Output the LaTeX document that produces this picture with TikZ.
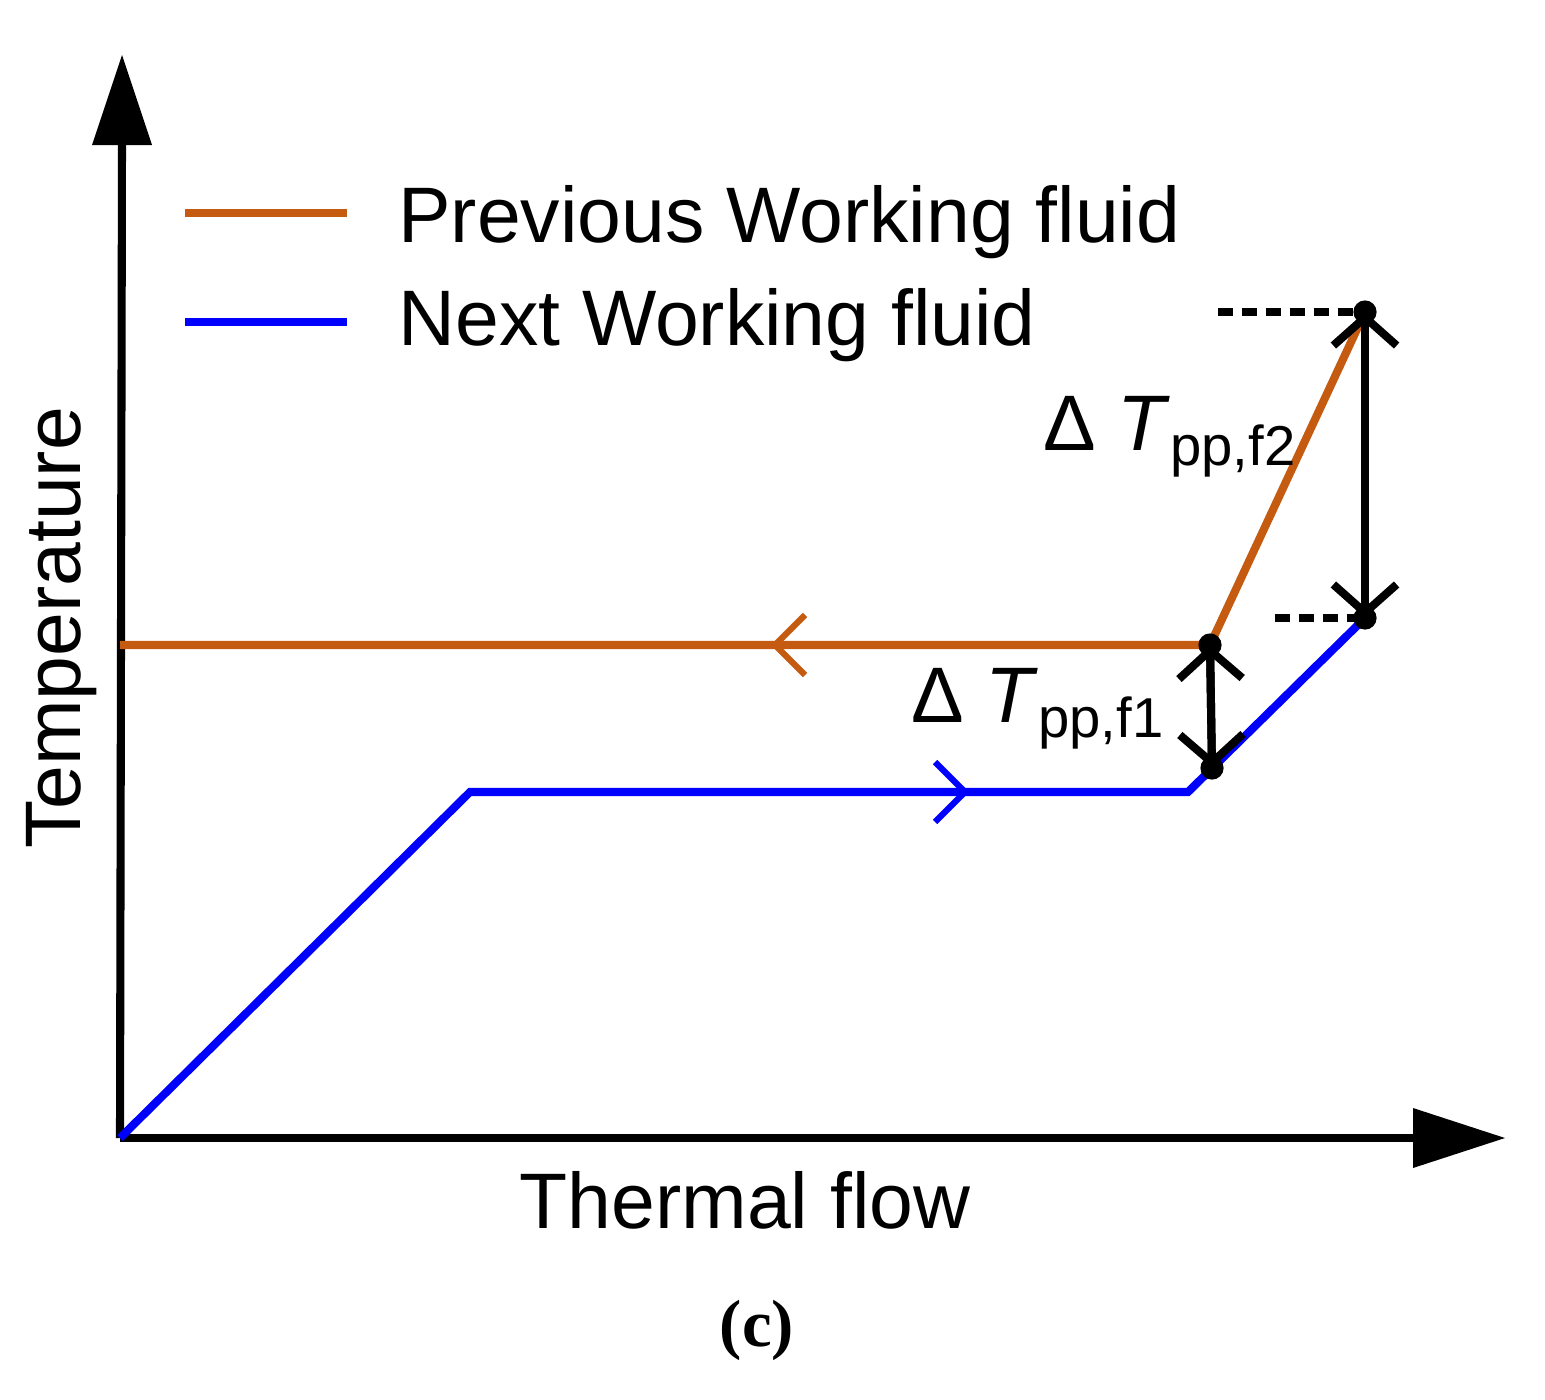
\documentclass[tikz,border=0pt]{standalone}
\usepackage{fontspec}
\setmainfont{Liberation Sans}
\newfontfamily\seriff{Liberation Serif}
\usetikzlibrary{arrows.meta}
\definecolor{org}{RGB}{197,90,17}
\definecolor{blu}{RGB}{0,0,255}
\begin{document}
\begin{tikzpicture}[x=0.05cm,y=-0.05cm,
 ln/.style={line width=11.5pt},
 dot/.style={circle,fill=black,inner sep=0pt,minimum size=33pt},
 big/.style={font=\fontsize{112}{125}\selectfont},
 open/.style={-{Straight Barb[length=40pt,width=90pt,line width=11.5pt]}},
 chev/.style={line width=9pt}]
\useasboundingbox (0,0) rectangle (1545,1399);
\coordinate (O) at (120,1138);
\draw[ln] (O) -- (122,140);
\fill (122,55) -- (92,145) -- (152,145) -- cycle;
\draw[ln] (O) -- (1415,1138);
\fill (1505,1138) -- (1413,1108) -- (1413,1168) -- cycle;
% curves
\coordinate (a1) at (120,645);
\coordinate (p1) at (1210,645);
\coordinate (p2) at (1365,312);
\coordinate (q1) at (1212,768);
\coordinate (q2) at (1365,618);
\draw[ln,org] (a1) -- (p1) -- (p2);
\draw[ln,blu] (O) -- (470,792) -- (1188,792) -- (q2);
\draw[chev,org] (805,615) -- (775,645) -- (805,675);
\draw[chev,blu] (935,762) -- (965,792) -- (935,822);
% double arrows
\draw[ln,open] (q1) -- (p1);
\draw[ln,open] (p1) -- (q1);
\draw[ln,open] (q2) -- (p2);
\draw[ln,open] (p2) -- (q2);
\draw[ln,dash pattern=on 22pt off 12pt] (1218,312) -- (p2);
\draw[ln,dash pattern=on 22pt off 12pt] (1275,618) -- (q2);
\foreach \n in {p1,p2,q1,q2} \node[dot] at (\n) {};
% legend
\draw[ln,org] (185,213) -- (347,213);
\draw[ln,blu] (185,322) -- (347,322);
\node[big,anchor=west] (l1) at (396,222) {Previous Working fluid};
\node[big,anchor=west] (l2) at (396,325) {Next Working fluid};
\node[big,anchor=base east] (d2) at (1298,450) {Δ \textit{T}\raisebox{-0.2em}{\fontsize{80}{90}\selectfont pp,f2}};
\node[big,anchor=base east] (d1) at (1166,722) {Δ \textit{T}\raisebox{-0.2em}{\fontsize{80}{90}\selectfont pp,f1}};
\node[big] (xl) at (745,1200) {Thermal flow};
\node[big,rotate=90] (yl) at (62,628) {Temperature};
\node[font=\seriff\bfseries\fontsize{95}{100}\selectfont] (c) at (757,1330) {(c)};
\end{tikzpicture}
\end{document}
